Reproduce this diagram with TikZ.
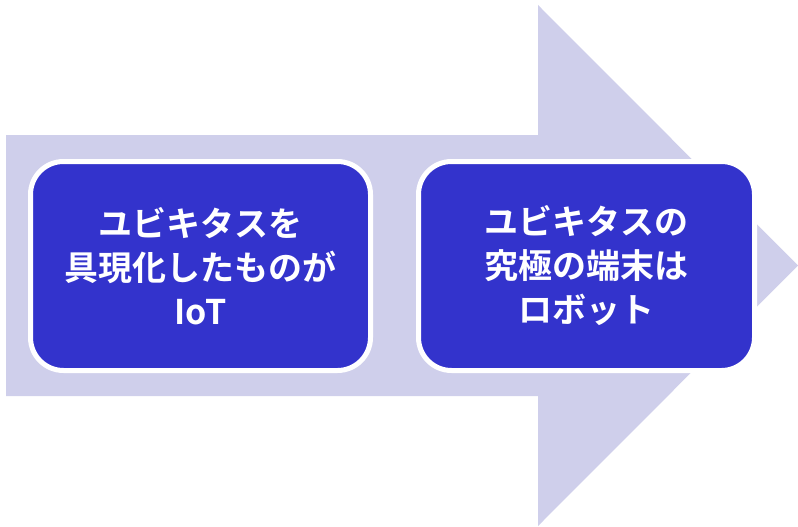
\documentclass[tikz,border=0pt]{standalone}
\usepackage{fontspec}
\newfontfamily\jpfont{Noto Sans CJK JP Bold}
\definecolor{arrowfill}{RGB}{207,207,235}
\definecolor{boxfill}{RGB}{51,51,204}
\tikzset{
  stepbox/.style={draw=white, line width=5pt, fill=boxfill, rounded corners=33pt,
    text=white, font=\jpfont\fontsize{34pt}{44pt}\selectfont, align=center,
    inner sep=0pt},
}
\begin{document}
\begin{tikzpicture}[x=1pt,y=-1pt]
\useasboundingbox (0,0) rectangle (798,527);
\fill[arrowfill] (6,135) -- (538,135) -- (538,5) -- (798,265.5) -- (538,526) -- (538,396) -- (6,396) -- cycle;
\node[stepbox, minimum width=340pt, minimum height=209pt] (a) at (200.5,266) {ユビキタスを\\具現化したものが\\IoT};
\node[stepbox, minimum width=336pt, minimum height=209pt] (b) at (586.5,266) {ユビキタスの\\究極の端末は\\ロボット};
\end{tikzpicture}
\end{document}
